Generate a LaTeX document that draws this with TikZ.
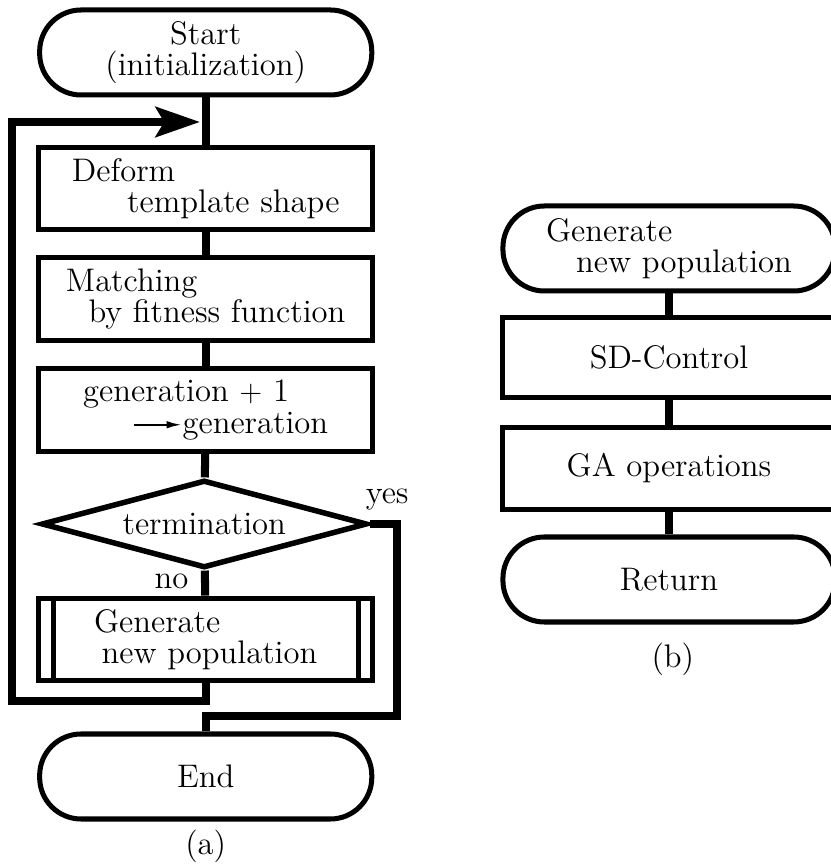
\documentclass[tikz,border=0pt]{standalone}
\usepackage{amsmath, amssymb}
\usetikzlibrary{positioning, calc, arrows.meta, shapes.geometric}
\definecolor{Ink}{HTML}{000000}
\newcommand{\chartfont}{\fontsize{13}{12.5}\selectfont}
\newcommand{\genarrow}{\tikz[baseline=-0.6ex]\draw[Ink, line width=0.8pt, -{Latex[length=6pt, width=3pt]}] (0,0) -- (0.66,0);}
\tikzset{
    termnode/.style={rectangle, rounded corners=0.58cm, draw=Ink, line width=2pt, minimum width=4.65cm, minimum height=1.19cm, align=center, font=\chartfont},
    procnode/.style={rectangle, draw=Ink, line width=2pt, minimum width=4.68cm, minimum height=1.16cm, align=left, font=\chartfont},
    decnode/.style={diamond, aspect=3.7, draw=Ink, line width=2.2pt, minimum width=4.56cm, minimum height=1.23cm, inner sep=0pt, font=\chartfont},
    conn/.style={draw=Ink, line width=3.2pt},
    looparrow/.style={draw=Ink, line width=3.2pt, -{Stealth[length=0.62cm, width=0.42cm, inset=0.12cm]}},
    tag/.style={font=\chartfont, text=Ink},
}

\begin{document}
\begin{tikzpicture}[x=1cm, y=1cm]
        \useasboundingbox (0,0) rectangle (11.62,12.124);

        % --- (a) main loop ---
        \node[termnode] (start)  at (2.88, 11.389) {Start\\(initialization)};
        \node[procnode] (deform) at (2.88, 9.485)  {Deform\\\hspace*{22pt}template shape};
        \node[procnode] (match)  at (2.88, 7.938)  {Matching\\\hspace*{9pt}by fitness function};
        \node[procnode] (incr)   at (2.88, 6.384)  {generation $+$ 1\\\hspace*{20pt}\genarrow generation};
        \node[decnode]  (term)   at (2.86, 4.788)  {termination};
        \node[procnode] (newpop) at (2.88, 3.171)  {Generate\\\hspace*{3pt}new population};
        \node[termnode] (finish) at (2.88, 1.253)  {End};

        % sub-process bars
        \draw[Ink, line width=2pt] ([xshift=0.24cm]newpop.north west) -- ([xshift=0.24cm]newpop.south west);
        \draw[Ink, line width=2pt] ([xshift=-0.24cm]newpop.north east) -- ([xshift=-0.24cm]newpop.south east);

        % straight flow
        \draw[conn] (start) -- (deform);
        \draw[conn] (deform) -- (match);
        \draw[conn] (match) -- (incr);
        \draw[conn] (incr) -- (term);
        \draw[conn] (term) -- (newpop);

        % loop back to the top
        \coordinate (loopbot) at (0.168, 2.31);
        \coordinate (looptop) at (0.168, 10.416);
        \coordinate (merge)   at (2.80, 10.416);
        \draw[looparrow] (newpop.south) |- (loopbot) -- (looptop) -- (merge);

        % exit branch
        \coordinate (exit) at (5.558, 2.1);
        \draw[conn] (term.east) -| (exit) -| (finish.north);

        \node[tag] (yes) at (5.42, 5.124) {yes};
        \node[tag, anchor=east] (no) at (2.76, 3.99) {no};
        \node[tag, below=0pt of finish] (capa) {(a)};

        % --- (b) sub-process ---
        \node[termnode, align=left] (subin) at (9.366, 8.645) {Generate\\\hspace*{12pt}new population};
        \node[procnode, minimum width=4.65cm, minimum height=1.13cm] (sdctl) at (9.366, 7.119) {SD-Control};
        \node[procnode, minimum width=4.65cm, minimum height=1.16cm] (gaops) at (9.366, 5.565) {GA operations};
        \node[termnode] (ret)    at (9.366, 4.011) {Return};

        \draw[conn] (subin) -- (sdctl);
        \draw[conn] (sdctl) -- (gaops);
        \draw[conn] (gaops) -- (ret);

        \node[tag] (capb) at (9.42, 2.888) {(b)};
    \end{tikzpicture}
\end{document}
